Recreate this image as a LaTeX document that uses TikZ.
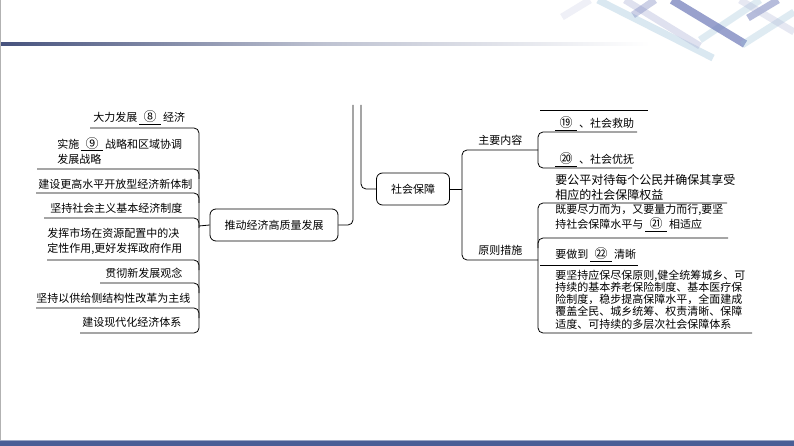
\documentclass[tikz,border=0pt]{standalone}
\usepackage{fontspec}
\setmainfont{Noto Sans CJK SC}
\usepackage{xcolor}
\definecolor{hdr}{RGB}{70,82,125}
\definecolor{barblue}{RGB}{74,94,150}
\definecolor{stripeA}{RGB}{150,190,215}
\definecolor{stripeB}{RGB}{110,122,185}
\definecolor{stripeC}{RGB}{175,180,215}
\newcommand{\fillin}[1]{\,\underline{\makebox[2em]{\fontsize{13pt}{13pt}\selectfont #1}}\,}

\begin{document}
\begin{tikzpicture}[x=1pt, y=-1pt, line width=0.8pt,
    hub/.style = {draw, rounded corners=6pt, minimum height=32pt, inner sep=0pt, font=\fontsize{11pt}{14pt}\selectfont},
    item/.style = {anchor=west, inner sep=0pt, align=left, font=\fontsize{11pt}{15pt}\selectfont},
    stripe/.style = {line width=7pt, line cap=butt}]

    \fill[white] (0,0) rectangle (794,446);
    \useasboundingbox (0,0) rectangle (794,446);

    \shade[left color=hdr, right color=white, middle color=hdr!35] (0,43) rectangle (650,45.5);
    \draw[stripe, stripeC, opacity=0.2] (562,17) -- (590,0);
    \draw[stripe, stripeA, opacity=0.35] (598,0) -- (713,58);
    \draw[stripe, stripeC, opacity=0.4] (625,0) -- (700,46);
    \draw[stripe, stripeB, opacity=0.35] (633,15) -- (655,0);
    \draw[stripe, stripeA, opacity=0.3] (700,40) -- (760,0);
    \draw[stripe, stripeB, opacity=0.7, line width=8pt] (672,0) -- (745,44);
    \draw[stripe, stripeB, opacity=0.5] (748,18) -- (778,0);
    \draw[stripe, stripeA, opacity=0.3] (742,45) -- (794,12);
    \draw[stripe, stripeC, opacity=0.3] (740,0) -- (794,32);
    \draw[gray!60, line width=1pt] (0.5,0) -- (0.5,440);
    \fill[barblue] (0,440) rectangle (794,446);
    \draw[barblue!55, line width=0.6pt] (0,440) -- (794,440);

    \node[item] (e1) at (93,118) {大力发展\fillin{⑧}经济};
    \node[item] (e2) at (57,150.5) {实施\fillin{⑨}战略和区域协调\\发展战略};
    \node[item] (e3) at (38,184) {建设更高水平开放型经济新体制};
    \node[item] (e4) at (50,208) {坚持社会主义基本经济制度};
    \node[item] (e5) at (47,241.5) {发挥市场在资源配置中的决\\定性作用,更好发挥政府作用};
    \node[item] (e6) at (105,273) {贯彻新发展观念};
    \node[item] (e7) at (36,298) {坚持以供给侧结构性改革为主线};
    \node[item] (e8) at (82,322) {建设现代化经济体系};

    \node[hub, minimum width=128pt] (push) at (274,225) {推动经济高质量发展};
    \node[hub, minimum width=73pt] (bao) at (413,189) {社会保障};

    \node[item] (c1) at (478,140) {主要内容};
    \node[item] (c2) at (478,250) {原则措施};
    \node[item] (k1) at (553,124) {\fillin{⑲}、社会救助};
    \node[item] (k2) at (553,160) {\fillin{⑳}、社会优抚};
    \node[item, font=\fontsize{12pt}{15pt}\selectfont] (k3) at (555,187) {要公平对待每个公民并确保其享受\\相应的社会保障权益};
    \node[item] (p1) at (555,218) {既要尽力而为，又要量力而行,要坚\\持社会保障水平与\fillin{㉑}相适应};
    \node[item] (p2) at (555,255) {要做到\fillin{㉒}清晰};
    \node[item, font=\fontsize{11pt}{12.3pt}\selectfont] (p3) at (555,299.5) {要坚持应保尽保原则,健全统筹城乡、可\\持续的基本养老保险制度、基本医疗保\\险制度，稳步提高保障水平，全面建成\\覆盖全民、城乡统筹、权责清晰、保障\\适度、可持续的多层次社会保障体系};

    \coordinate (lb) at (199,226);
    \coordinate (rb) at (462,189);

    \draw[rounded corners=5pt] (90,128) -- (199,128) -- (199,333) -- (80,333);
    \foreach \xs/\yl in {37/169, 36/193, 44/218, 47/260, 100/283, 36/308}
        \draw[rounded corners=5pt] (\xs,\yl) -- (199,\yl) -- (199,{\yl+10});
    \draw (lb) -- (push.west);
    \draw[rounded corners=5pt] (push.east) -- (353,225) -- (353,105);
    \draw[rounded corners=5pt] (361,105) -- (361,189) -- (bao.west);
    \draw (bao.east) -- (rb);

    \draw[rounded corners=5pt] (538,150) -- (462,150) -- (462,260) -- (538,260);
    \draw[rounded corners=5pt] (637,132) -- (538,132) -- (538,168) -- (632,168);
    \draw (540,110) -- (648,110);
    \draw[rounded corners=5pt] (727,203) -- (538,203) -- (538,333) -- (752,333);
    \draw[rounded corners=5pt] (538,248) -- (538,238) -- (728,238);
    \draw (540,265) -- (638,265);

\end{tikzpicture}
\end{document}
